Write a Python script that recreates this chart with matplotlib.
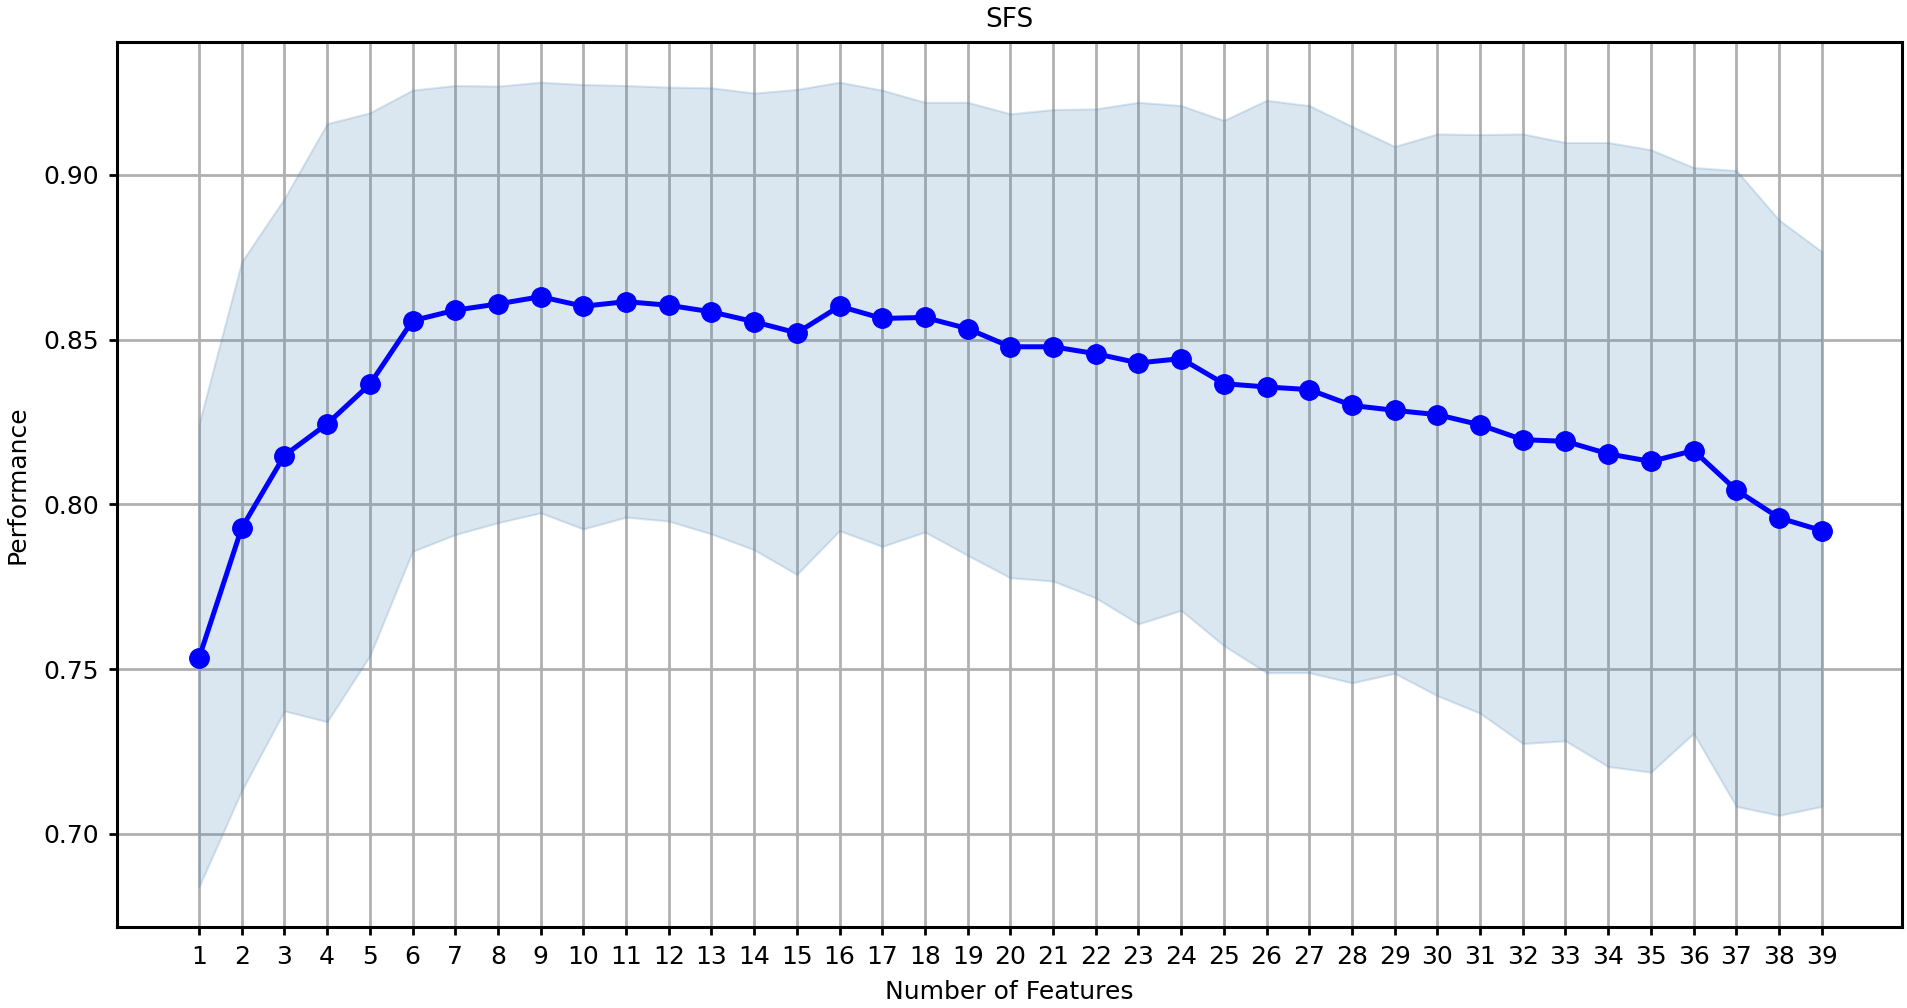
import matplotlib
matplotlib.use("Agg")
import matplotlib.pyplot as plt
import numpy as np

plt.rcParams['font.family'] = ['DejaVu Sans']

n_features = list(range(1, 40))

avg_score = [0.7533, 0.7928, 0.8148, 0.8244, 0.8364, 0.8557, 0.8589, 0.8608, 0.8630, 0.8601,
             0.8615, 0.8604, 0.8584, 0.8554, 0.8520, 0.8601, 0.8564, 0.8567, 0.8533, 0.8478,
             0.8478, 0.8457, 0.8429, 0.8442, 0.8366, 0.8356, 0.8348, 0.8300, 0.8285, 0.8272,
             0.8241, 0.8196, 0.8191, 0.8153, 0.8130, 0.8163, 0.8043, 0.7959, 0.7920]

upper_bound = [0.8244, 0.8736, 0.8928, 0.9155, 0.9188, 0.9257, 0.9271, 0.9269, 0.9281, 0.9274,
               0.9271, 0.9266, 0.9264, 0.9248, 0.9259, 0.9281, 0.9257, 0.9220, 0.9220, 0.9185,
               0.9198, 0.9200, 0.9220, 0.9210, 0.9165, 0.9226, 0.9210, 0.9147, 0.9086, 0.9124,
               0.9122, 0.9124, 0.9098, 0.9098, 0.9076, 0.9022, 0.9013, 0.8863, 0.8767]

lower_bound = [0.6839, 0.7131, 0.7373, 0.7340, 0.7540, 0.7857, 0.7908, 0.7944, 0.7974, 0.7925,
               0.7961, 0.7949, 0.7910, 0.7862, 0.7787, 0.7920, 0.7872, 0.7916, 0.7845, 0.7777,
               0.7767, 0.7716, 0.7637, 0.7678, 0.7571, 0.7489, 0.7489, 0.7458, 0.7487, 0.7419,
               0.7366, 0.7274, 0.7282, 0.7204, 0.7187, 0.7305, 0.7083, 0.7056, 0.7083]

fig = plt.figure(figsize=(19.07, 10.08), dpi=100)
W, H = 1907, 1008
left, right, top, bottom = 117, 1902, 42, 927
ax = fig.add_axes([left / W, 1 - bottom / H, (right - left) / W, (bottom - top) / H])

ax.fill_between(n_features, upper_bound, lower_bound, color='steelblue', alpha=0.2, lw=1.5)
ax.plot(n_features, avg_score, color='blue', marker='o', lw=3.6, markersize=14)

ax.set_xticks(n_features)
ax.set_xticklabels([str(k) for k in n_features])
ax.set_yticks([0.70, 0.75, 0.80, 0.85, 0.90])
ax.set_xlim(-0.92, 40.88)
ax.set_ylim(0.6717, 0.9403)

ax.grid(True, color='#b0b0b0', lw=2)
ax.set_axisbelow(True)
for s in ax.spines.values():
    s.set_linewidth(2.2)
ax.tick_params(axis='both', labelsize=18, length=6, width=2, pad=7)

ax.set_title('SFS', fontsize=19, pad=11)
ax.set_xlabel('Number of Features', fontsize=18, labelpad=8)
ax.set_ylabel('Performance', fontsize=18, labelpad=10)

fig.savefig('out.png', dpi=100)
